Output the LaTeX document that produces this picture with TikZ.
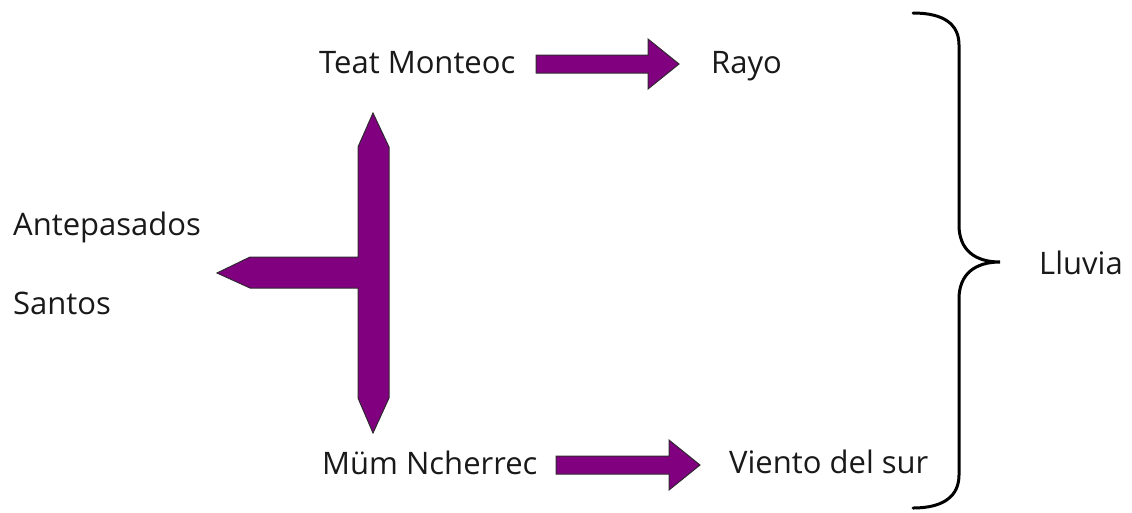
\documentclass[tikz,border=0pt]{standalone}
\usepackage{fontspec}
\setmainfont{Open Sans}
\definecolor{arrowfill}{RGB}{128,0,128}
\definecolor{arrowline}{RGB}{50,40,50}
\begin{document}
\begin{tikzpicture}[x=1pt,y=-1pt,
  lbl/.style={anchor=base west,inner sep=0pt,font=\fontsize{31}{36}\selectfont,text=black!90},
  blockarrow/.style={fill=arrowfill,draw=arrowline,line width=1pt,line join=miter},
  bracestyle/.style={draw=black,line width=3pt,line cap=round}]
\useasboundingbox (0,0) rectangle (1132,512);
% labels
\node[lbl] (teat) at (319,73) {Teat Monteoc};
\node[lbl] (rayo) at (711,73) {Rayo};
\node[lbl] (ante) at (13,235) {Antepasados};
\node[lbl] (santos) at (13,314) {Santos};
\node[lbl] (mum) at (322,474) {Müm Ncherrec};
\node[lbl] (viento) at (729,473) {Viento del sur};
\node[lbl] (lluvia) at (1039,274) {Lluvia};
% T-shaped double arrow
\draw[blockarrow] (373,113) -- (389,147) -- (389,398) -- (373,433) -- (358,398)
  -- (358,288) -- (250,288) -- (217,273) -- (250,257) -- (358,257) -- (358,147) -- cycle;
% right arrows
\draw[blockarrow] (536,55) -- (648,55) -- (648,39) -- (679,64) -- (648,89) -- (648,73) -- (536,73) -- cycle;
\draw[blockarrow] (556,456) -- (669,456) -- (669,440) -- (700,465) -- (669,490) -- (669,474) -- (556,474) -- cycle;
% brace
\draw[bracestyle] (913,13) .. controls (945,13) and (959,25) .. (959,45) -- (959,225)
  .. controls (959,250) and (975,262) .. (1000,262)
  .. controls (975,262) and (959,274) .. (959,299) -- (959,475)
  .. controls (959,495) and (945,508) .. (913,508);
\end{tikzpicture}
\end{document}
